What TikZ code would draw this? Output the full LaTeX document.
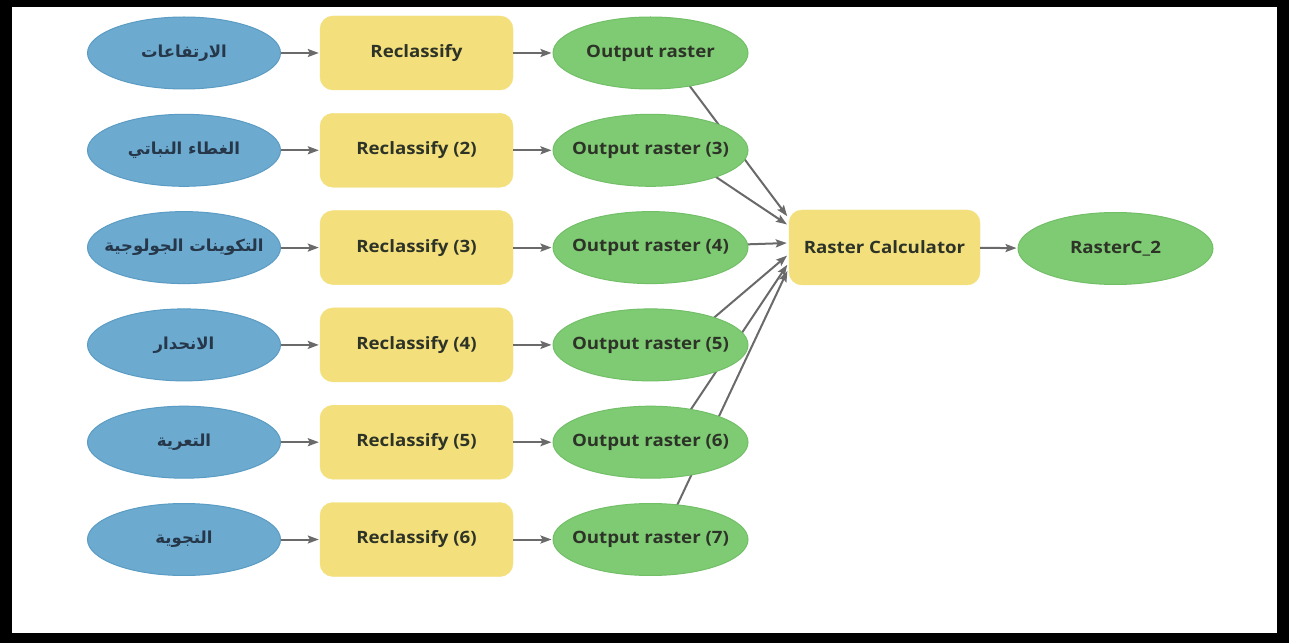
\documentclass[tikz,border=0pt]{standalone}
\usepackage{fontspec}
\setmainfont{Open Sans}
\newfontfamily\lblfont{Open Sans}[FakeStretch=1.1]
\newfontfamily\arabicfont[Script=Arabic]{DejaVu Sans}
\TeXXeTstate=1
\usetikzlibrary{shapes.geometric,arrows.meta,calc}
\newcommand{\zl}[1]{\makebox[0pt]{#1}}
\definecolor{blueF}{HTML}{6CAACF}
\definecolor{blueD}{HTML}{5B9CC4}
\definecolor{yelF}{HTML}{F3E07C}
\definecolor{greenF}{HTML}{7ECB74}
\definecolor{greenD}{HTML}{72BF68}
\definecolor{edgeC}{HTML}{6A6A6A}
\definecolor{txtC}{HTML}{2E3328}
\definecolor{arC}{HTML}{26374A}
\pgfdeclarelayer{framelayer}
\pgfdeclarelayer{edgelayer}
\pgfsetlayers{framelayer,edgelayer,main}
\tikzset{
  inbox/.style={ellipse, draw=blueD, line width=1pt, fill=blueF, minimum width=193pt, minimum height=72pt, inner sep=0pt, font=\arabicfont\bfseries\fontsize{16.5}{19}\selectfont, text=arC},
  toolbox/.style={rectangle, rounded corners=13pt, fill=yelF, draw=yelF, minimum width=193pt, minimum height=74pt, inner sep=0pt, font=\lblfont\bfseries\fontsize{17}{19}\selectfont, text=txtC},
  outbox/.style={ellipse, draw=greenD, line width=1pt, fill=greenF, minimum width=195pt, minimum height=72pt, inner sep=0pt, font=\lblfont\bfseries\fontsize{17}{19}\selectfont, text=txtC},
  conn/.style={draw=edgeC, line width=2pt, -{Stealth[length=11pt,width=8pt,inset=2pt]}, shorten >=1pt}
}
\begin{document}
\begin{tikzpicture}[x=1pt,y=-1pt]
\begin{pgfonlayer}{framelayer}
\fill[white] (0,0) rectangle (1291,644);
\fill[black] (0,0) rectangle (1289,643);
\fill[white] (12,7) rectangle (1277,633);
\end{pgfonlayer}
% inputs
\node[inbox] (b1) at (184,53)    {\zl{\beginR الارتفاعات\endR}};
\node[inbox] (b2) at (184,150.3) {\zl{\beginR الغطاء النباتي\endR}};
\node[inbox] (b3) at (184,247.6) {\zl{\beginR التكوينات الجولوجية\endR}};
\node[inbox] (b4) at (184,344.9) {\zl{\beginR الانحدار\endR}};
\node[inbox] (b5) at (184,442.2) {\zl{\beginR التعرية\endR}};
\node[inbox] (b6) at (184,539.5) {\zl{\beginR التجوية\endR}};
% tools
\node[toolbox] (r1) at (416.5,53)    {Reclassify};
\node[toolbox] (r2) at (416.5,150.3) {Reclassify (2)};
\node[toolbox] (r3) at (416.5,247.6) {Reclassify (3)};
\node[toolbox] (r4) at (416.5,344.9) {Reclassify (4)};
\node[toolbox] (r5) at (416.5,442.2) {Reclassify (5)};
\node[toolbox] (r6) at (416.5,539.5) {Reclassify (6)};
% outputs
\node[outbox] (o1) at (650.5,53)    {\zl{Output raster}};
\node[outbox] (o3) at (650.5,150.3) {\zl{Output raster (3)}};
\node[outbox] (o4) at (650.5,247.6) {\zl{Output raster (4)}};
\node[outbox] (o5) at (650.5,344.9) {\zl{Output raster (5)}};
\node[outbox] (o6) at (650.5,442.2) {\zl{Output raster (6)}};
\node[outbox] (o7) at (650.5,539.5) {\zl{Output raster (7)}};
% calculator and result
\node[toolbox, minimum width=191pt, minimum height=75pt] (rc) at (884.5,247.5) {Raster Calculator};
\node[outbox] (res) at (1115.5,248.5) {\zl{RasterC\_2}};
% connectors
\foreach \i/\j in {b1/r1,b2/r2,b3/r3,b4/r4,b5/r5,b6/r6,r1/o1,r2/o3,r3/o4,r4/o5,r5/o6,r6/o7}
  \draw[conn] (\i) -- (\j);
\draw[conn] (rc) -- (res);
\begin{pgfonlayer}{edgelayer}
\draw[conn] ($(o1.center)+(14.5,0)$) -- ($(rc.west)+(-1,-30.5)$);
\draw[conn] ($(o3.center)+(25.5,0)$) -- ($(rc.west)+(-1,-22.5)$);
\draw[conn] (o4.center) -- ($(rc.west)+(-1,-4.5)$);
\draw[conn] ($(o5.center)+(31.5,0)$) -- ($(rc.west)+(-1,7.5)$);
\draw[conn] ($(o6.center)+(18.5,0)$) -- ($(rc.west)+(-1,16.5)$);
\draw[conn] ($(o7.center)+(10.5,0)$) -- ($(rc.west)+(-1,22.5)$);
\end{pgfonlayer}
\end{tikzpicture}
\end{document}
